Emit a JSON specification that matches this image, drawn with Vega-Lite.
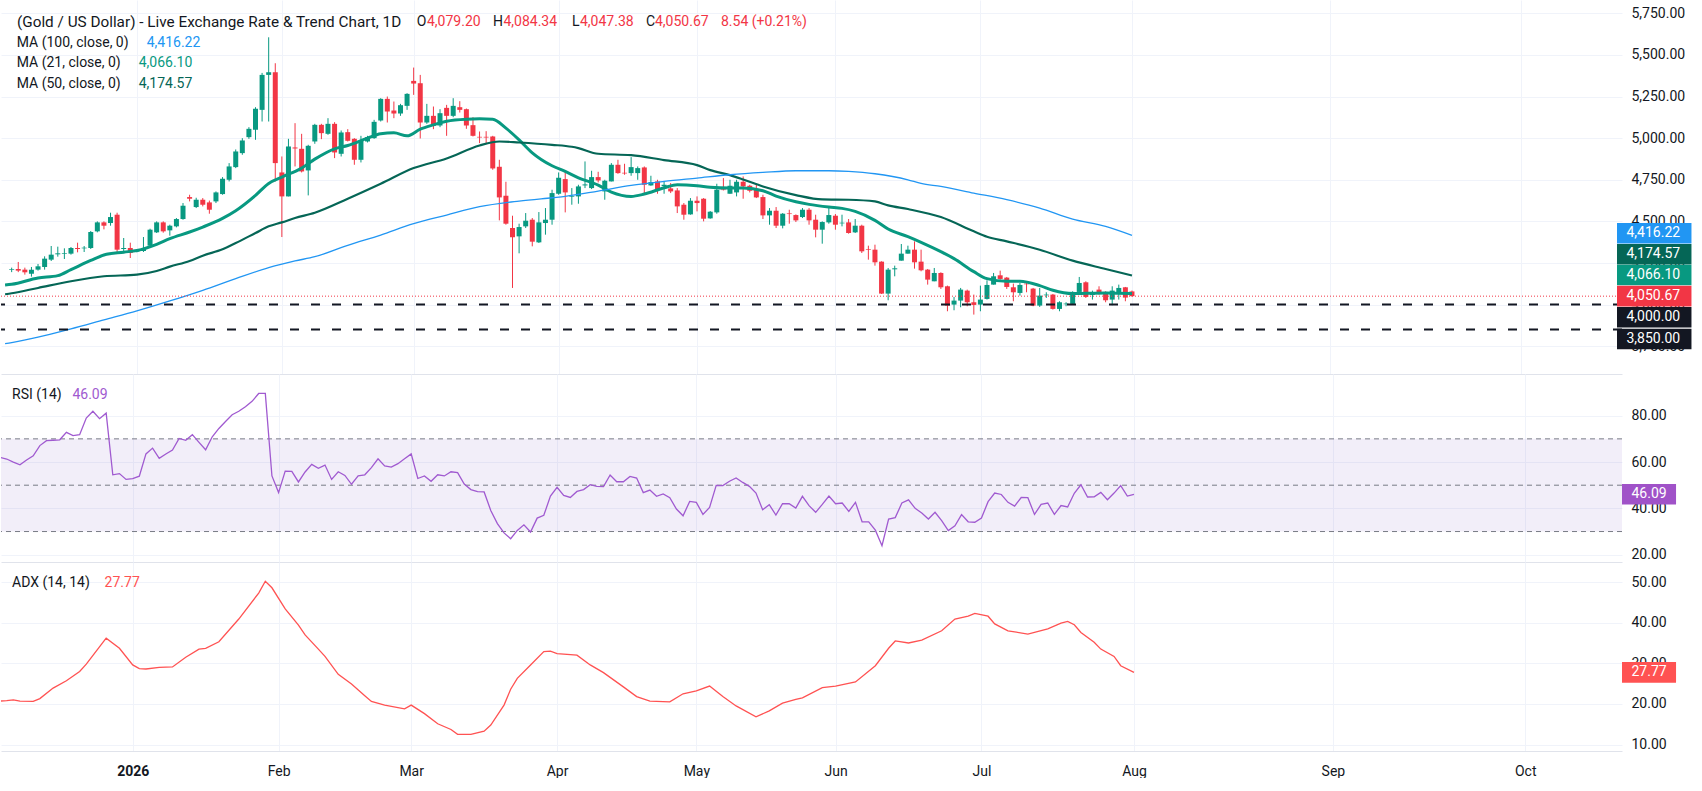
{
  "$schema": "https://vega.github.io/schema/vega-lite/v6.json",
  "description": "Gold / US Dollar daily candles with MA 21/50/100, RSI (14) and ADX (14, 14) panes.",
  "background": "#ffffff",
  "padding": 0,
  "spacing": 0,
  "config": {
    "font": "Roboto",
    "view": {"stroke": null},
    "axis": {"labelFont": "Roboto", "labelFontSize": 14, "labelColor": "#131722", "gridColor": "#f0f3fa", "ticks": false, "domain": false, "title": null, "labelOverlap": false, "labelFlush": false},
    "text": {"font": "Roboto", "fontSize": 14, "align": "left", "baseline": "middle", "color": "#131722"}
  },
  "datasets": {
    "ohlc": [
      {"i":0,"o":4208,"h":4222,"l":4195,"c":4212},{"i":1,"o":4214,"h":4256,"l":4195,"c":4204},{"i":2,"o":4210,"h":4222,"l":4180,"c":4194},
      {"i":3,"o":4186,"h":4226,"l":4168,"c":4210},{"i":4,"o":4210,"h":4244,"l":4204,"c":4230},{"i":5,"o":4226,"h":4290,"l":4210,"c":4276},
      {"i":6,"o":4270,"h":4352,"l":4262,"c":4300},{"i":7,"o":4302,"h":4348,"l":4288,"c":4308},{"i":8,"o":4304,"h":4338,"l":4274,"c":4308},
      {"i":9,"o":4306,"h":4346,"l":4300,"c":4340},{"i":10,"o":4340,"h":4372,"l":4314,"c":4334},{"i":11,"o":4338,"h":4352,"l":4316,"c":4342},
      {"i":12,"o":4340,"h":4442,"l":4334,"c":4436},{"i":13,"o":4440,"h":4500,"l":4434,"c":4494},{"i":14,"o":4494,"h":4500,"l":4452,"c":4474},
      {"i":15,"o":4490,"h":4552,"l":4474,"c":4526},{"i":16,"o":4540,"h":4552,"l":4310,"c":4330},{"i":17,"o":4334,"h":4400,"l":4320,"c":4340},
      {"i":18,"o":4340,"h":4372,"l":4280,"c":4310},{"i":19,"o":4318,"h":4332,"l":4314,"c":4326},{"i":20,"o":4322,"h":4406,"l":4316,"c":4340},
      {"i":21,"o":4354,"h":4456,"l":4346,"c":4450},{"i":22,"o":4434,"h":4500,"l":4430,"c":4494},{"i":23,"o":4494,"h":4500,"l":4432,"c":4440},
      {"i":24,"o":4446,"h":4480,"l":4414,"c":4474},{"i":25,"o":4470,"h":4520,"l":4464,"c":4514},{"i":26,"o":4514,"h":4610,"l":4510,"c":4594},
      {"i":27,"o":4646,"h":4660,"l":4620,"c":4636},{"i":28,"o":4586,"h":4642,"l":4580,"c":4630},{"i":29,"o":4630,"h":4640,"l":4590,"c":4600},
      {"i":30,"o":4614,"h":4625,"l":4546,"c":4570},{"i":31,"o":4620,"h":4680,"l":4610,"c":4674},{"i":32,"o":4664,"h":4766,"l":4660,"c":4756},
      {"i":33,"o":4750,"h":4850,"l":4740,"c":4830},{"i":34,"o":4826,"h":4932,"l":4820,"c":4920},{"i":35,"o":4910,"h":5000,"l":4900,"c":4986},
      {"i":36,"o":5006,"h":5066,"l":4996,"c":5056},{"i":37,"o":5050,"h":5186,"l":4990,"c":5176},{"i":38,"o":5170,"h":5392,"l":5100,"c":5380},
      {"i":39,"o":5380,"h":5606,"l":5100,"c":5396},{"i":40,"o":5396,"h":5450,"l":4740,"c":4850},{"i":41,"o":4794,"h":4890,"l":4406,"c":4650},
      {"i":42,"o":4650,"h":4996,"l":4650,"c":4950},{"i":43,"o":4944,"h":5090,"l":4830,"c":4938},{"i":44,"o":4936,"h":5026,"l":4794,"c":4800},
      {"i":45,"o":4806,"h":4960,"l":4656,"c":4954},{"i":46,"o":4980,"h":5086,"l":4966,"c":5080},{"i":47,"o":5080,"h":5086,"l":4994,"c":5030},
      {"i":48,"o":5026,"h":5120,"l":5020,"c":5086},{"i":49,"o":5086,"h":5096,"l":4880,"c":4914},{"i":50,"o":4906,"h":5046,"l":4890,"c":5034},
      {"i":51,"o":5036,"h":5054,"l":4980,"c":4984},{"i":52,"o":4996,"h":5000,"l":4840,"c":4870},{"i":53,"o":4870,"h":5014,"l":4854,"c":4986},
      {"i":54,"o":4980,"h":5014,"l":4974,"c":5006},{"i":55,"o":5000,"h":5110,"l":4996,"c":5098},{"i":56,"o":5106,"h":5240,"l":5100,"c":5236},
      {"i":57,"o":5236,"h":5250,"l":5094,"c":5160},{"i":58,"o":5166,"h":5220,"l":5120,"c":5148},{"i":59,"o":5148,"h":5206,"l":5134,"c":5198},
      {"i":60,"o":5194,"h":5270,"l":5170,"c":5266},{"i":61,"o":5344,"h":5424,"l":5260,"c":5328},{"i":62,"o":5330,"h":5380,"l":4998,"c":5094},
      {"i":63,"o":5094,"h":5206,"l":5086,"c":5134},{"i":64,"o":5134,"h":5190,"l":5054,"c":5074},{"i":65,"o":5076,"h":5174,"l":5066,"c":5150},
      {"i":66,"o":5182,"h":5200,"l":5014,"c":5134},{"i":67,"o":5134,"h":5240,"l":5126,"c":5194},{"i":68,"o":5186,"h":5222,"l":5154,"c":5170},
      {"i":69,"o":5174,"h":5178,"l":5056,"c":5076},{"i":70,"o":5078,"h":5126,"l":5010,"c":5014},{"i":71,"o":5008,"h":5040,"l":4970,"c":5004},
      {"i":72,"o":5008,"h":5042,"l":4970,"c":5004},{"i":73,"o":5010,"h":5014,"l":4810,"c":4818},{"i":74,"o":4828,"h":4870,"l":4506,"c":4644},
      {"i":75,"o":4654,"h":4738,"l":4480,"c":4486},{"i":76,"o":4460,"h":4534,"l":4100,"c":4404},{"i":77,"o":4410,"h":4486,"l":4308,"c":4466},
      {"i":78,"o":4470,"h":4550,"l":4460,"c":4504},{"i":79,"o":4510,"h":4520,"l":4350,"c":4378},{"i":80,"o":4374,"h":4556,"l":4370,"c":4494},
      {"i":81,"o":4490,"h":4580,"l":4420,"c":4510},{"i":82,"o":4510,"h":4690,"l":4480,"c":4670},{"i":83,"o":4666,"h":4794,"l":4660,"c":4762},
      {"i":84,"o":4754,"h":4800,"l":4554,"c":4674},{"i":85,"o":4648,"h":4700,"l":4600,"c":4652},{"i":86,"o":4650,"h":4720,"l":4606,"c":4710},
      {"i":87,"o":4716,"h":4860,"l":4700,"c":4722},{"i":88,"o":4700,"h":4804,"l":4694,"c":4766},{"i":89,"o":4766,"h":4798,"l":4734,"c":4746},
      {"i":90,"o":4680,"h":4750,"l":4630,"c":4744},{"i":91,"o":4740,"h":4850,"l":4740,"c":4840},{"i":92,"o":4840,"h":4870,"l":4786,"c":4790},
      {"i":93,"o":4792,"h":4846,"l":4780,"c":4788},{"i":94,"o":4790,"h":4886,"l":4774,"c":4826},{"i":95,"o":4790,"h":4830,"l":4750,"c":4820},
      {"i":96,"o":4824,"h":4830,"l":4666,"c":4720},{"i":97,"o":4716,"h":4774,"l":4714,"c":4736},{"i":98,"o":4740,"h":4750,"l":4666,"c":4690},
      {"i":99,"o":4712,"h":4740,"l":4666,"c":4720},{"i":100,"o":4698,"h":4730,"l":4670,"c":4680},{"i":101,"o":4686,"h":4700,"l":4550,"c":4590},
      {"i":102,"o":4600,"h":4610,"l":4510,"c":4540},{"i":103,"o":4542,"h":4640,"l":4540,"c":4624},{"i":104,"o":4624,"h":4650,"l":4560,"c":4610},
      {"i":105,"o":4636,"h":4640,"l":4500,"c":4516},{"i":106,"o":4518,"h":4562,"l":4516,"c":4558},{"i":107,"o":4554,"h":4726,"l":4546,"c":4690},
      {"i":108,"o":4692,"h":4760,"l":4686,"c":4688},{"i":109,"o":4666,"h":4750,"l":4666,"c":4714},{"i":110,"o":4674,"h":4750,"l":4650,"c":4738},
      {"i":111,"o":4738,"h":4770,"l":4636,"c":4710},{"i":112,"o":4714,"h":4720,"l":4674,"c":4684},{"i":113,"o":4690,"h":4720,"l":4640,"c":4644},
      {"i":114,"o":4646,"h":4660,"l":4514,"c":4536},{"i":115,"o":4536,"h":4580,"l":4480,"c":4564},{"i":116,"o":4564,"h":4586,"l":4460,"c":4474},
      {"i":117,"o":4474,"h":4550,"l":4458,"c":4546},{"i":118,"o":4548,"h":4570,"l":4486,"c":4544},{"i":119,"o":4538,"h":4542,"l":4496,"c":4506},
      {"i":120,"o":4526,"h":4580,"l":4520,"c":4570},{"i":121,"o":4570,"h":4580,"l":4480,"c":4506},{"i":122,"o":4510,"h":4540,"l":4404,"c":4450},
      {"i":123,"o":4450,"h":4500,"l":4366,"c":4496},{"i":124,"o":4494,"h":4590,"l":4486,"c":4538},{"i":125,"o":4534,"h":4544,"l":4450,"c":4480},
      {"i":126,"o":4488,"h":4540,"l":4470,"c":4492},{"i":127,"o":4494,"h":4514,"l":4426,"c":4430},{"i":128,"o":4434,"h":4514,"l":4430,"c":4474},
      {"i":129,"o":4474,"h":4480,"l":4310,"c":4320},{"i":130,"o":4332,"h":4354,"l":4270,"c":4328},{"i":131,"o":4330,"h":4360,"l":4234,"c":4254},
      {"i":132,"o":4258,"h":4260,"l":4064,"c":4066},{"i":133,"o":4066,"h":4220,"l":4026,"c":4210},{"i":134,"o":4212,"h":4234,"l":4170,"c":4218},
      {"i":135,"o":4264,"h":4364,"l":4264,"c":4306},{"i":136,"o":4306,"h":4354,"l":4306,"c":4330},{"i":137,"o":4330,"h":4380,"l":4216,"c":4254},
      {"i":138,"o":4258,"h":4330,"l":4200,"c":4206},{"i":139,"o":4210,"h":4214,"l":4120,"c":4150},{"i":140,"o":4140,"h":4220,"l":4140,"c":4190},
      {"i":141,"o":4190,"h":4194,"l":4094,"c":4104},{"i":142,"o":4110,"h":4114,"l":3960,"c":3994},{"i":143,"o":4000,"h":4046,"l":3966,"c":4024},
      {"i":144,"o":4024,"h":4100,"l":3984,"c":4090},{"i":145,"o":4084,"h":4090,"l":3990,"c":4014},{"i":146,"o":4014,"h":4060,"l":3940,"c":3998},
      {"i":147,"o":4000,"h":4114,"l":3960,"c":4030},{"i":148,"o":4034,"h":4146,"l":4030,"c":4118},{"i":149,"o":4120,"h":4190,"l":4120,"c":4170},
      {"i":150,"o":4176,"h":4204,"l":4150,"c":4154},{"i":151,"o":4162,"h":4166,"l":4094,"c":4106},{"i":152,"o":4104,"h":4126,"l":4020,"c":4074},
      {"i":153,"o":4070,"h":4130,"l":4054,"c":4118},{"i":154,"o":4126,"h":4130,"l":4074,"c":4122},{"i":155,"o":4096,"h":4100,"l":3990,"c":3994},
      {"i":156,"o":3994,"h":4100,"l":3986,"c":4054},{"i":157,"o":4056,"h":4074,"l":4040,"c":4060},{"i":158,"o":4060,"h":4064,"l":3970,"c":3974},
      {"i":159,"o":3974,"h":4020,"l":3960,"c":4014},{"i":160,"o":4002,"h":4014,"l":3990,"c":4006},{"i":161,"o":4004,"h":4080,"l":4000,"c":4076},
      {"i":162,"o":4076,"h":4166,"l":4070,"c":4130},{"i":163,"o":4134,"h":4140,"l":4040,"c":4046},{"i":164,"o":4058,"h":4084,"l":4030,"c":4064},
      {"i":165,"o":4090,"h":4110,"l":4060,"c":4070},{"i":166,"o":4076,"h":4080,"l":4014,"c":4026},{"i":167,"o":4030,"h":4110,"l":3996,"c":4084},
      {"i":168,"o":4064,"h":4120,"l":4030,"c":4100},{"i":169,"o":4104,"h":4106,"l":4020,"c":4042.13},{"i":170,"o":4079.2,"h":4084.34,"l":4047.38,"c":4050.67}
    ],
    "ma": [
      {"s":"ma21","i":-1,"v":4118},{"s":"ma21","i":0,"v":4122},{"s":"ma21","i":4,"v":4160},{"s":"ma21","i":7,"v":4174},{"s":"ma21","i":9,"v":4210},
      {"s":"ma21","i":12,"v":4265},{"s":"ma21","i":14,"v":4298},{"s":"ma21","i":17,"v":4315},{"s":"ma21","i":19,"v":4325},{"s":"ma21","i":22,"v":4362},
      {"s":"ma21","i":24,"v":4396},{"s":"ma21","i":27,"v":4436},{"s":"ma21","i":29,"v":4466},{"s":"ma21","i":32,"v":4518},{"s":"ma21","i":34,"v":4564},
      {"s":"ma21","i":37,"v":4656},{"s":"ma21","i":39,"v":4728},{"s":"ma21","i":41,"v":4766},{"s":"ma21","i":44,"v":4820},{"s":"ma21","i":46,"v":4874},
      {"s":"ma21","i":49,"v":4936},{"s":"ma21","i":51,"v":4956},{"s":"ma21","i":54,"v":5000},{"s":"ma21","i":56,"v":5026},{"s":"ma21","i":58,"v":5032},
      {"s":"ma21","i":60,"v":5014},{"s":"ma21","i":62,"v":5054},{"s":"ma21","i":64,"v":5080},{"s":"ma21","i":66,"v":5102},{"s":"ma21","i":69,"v":5114},
      {"s":"ma21","i":71,"v":5116},{"s":"ma21","i":73,"v":5114},{"s":"ma21","i":75,"v":5060},{"s":"ma21","i":77,"v":4990},{"s":"ma21","i":79,"v":4912},
      {"s":"ma21","i":82,"v":4834},{"s":"ma21","i":84,"v":4800},{"s":"ma21","i":86,"v":4762},{"s":"ma21","i":89,"v":4718},{"s":"ma21","i":91,"v":4676},
      {"s":"ma21","i":94,"v":4650},{"s":"ma21","i":96,"v":4664},{"s":"ma21","i":99,"v":4702},{"s":"ma21","i":101,"v":4720},{"s":"ma21","i":104,"v":4714},
      {"s":"ma21","i":106,"v":4705},{"s":"ma21","i":109,"v":4700},{"s":"ma21","i":111,"v":4700},{"s":"ma21","i":114,"v":4684},{"s":"ma21","i":116,"v":4652},
      {"s":"ma21","i":119,"v":4618},{"s":"ma21","i":121,"v":4602},{"s":"ma21","i":124,"v":4586},{"s":"ma21","i":126,"v":4578},{"s":"ma21","i":128,"v":4560},
      {"s":"ma21","i":131,"v":4506},{"s":"ma21","i":133,"v":4454},{"s":"ma21","i":136,"v":4408},{"s":"ma21","i":138,"v":4374},{"s":"ma21","i":141,"v":4318},
      {"s":"ma21","i":143,"v":4276},{"s":"ma21","i":146,"v":4198},{"s":"ma21","i":148,"v":4156},{"s":"ma21","i":151,"v":4140},{"s":"ma21","i":153,"v":4140},
      {"s":"ma21","i":156,"v":4114},{"s":"ma21","i":158,"v":4086},{"s":"ma21","i":161,"v":4066},{"s":"ma21","i":163,"v":4068},{"s":"ma21","i":166,"v":4070},
      {"s":"ma21","i":170,"v":4066.1},
      {"s":"ma50","i":-1,"v":4062},{"s":"ma50","i":0,"v":4068},{"s":"ma50","i":4,"v":4100},{"s":"ma50","i":9,"v":4140},{"s":"ma50","i":14,"v":4170},
      {"s":"ma50","i":19,"v":4180},{"s":"ma50","i":22,"v":4202},{"s":"ma50","i":24,"v":4228},{"s":"ma50","i":27,"v":4262},{"s":"ma50","i":29,"v":4294},
      {"s":"ma50","i":32,"v":4332},{"s":"ma50","i":34,"v":4370},{"s":"ma50","i":37,"v":4430},{"s":"ma50","i":39,"v":4470},{"s":"ma50","i":41,"v":4494},
      {"s":"ma50","i":43,"v":4520},{"s":"ma50","i":46,"v":4552},{"s":"ma50","i":51,"v":4636},{"s":"ma50","i":56,"v":4726},{"s":"ma50","i":61,"v":4820},
      {"s":"ma50","i":66,"v":4878},{"s":"ma50","i":71,"v":4956},{"s":"ma50","i":74,"v":4980},{"s":"ma50","i":77,"v":4974},{"s":"ma50","i":82,"v":4960},
      {"s":"ma50","i":85,"v":4948},{"s":"ma50","i":86,"v":4940},{"s":"ma50","i":89,"v":4906},{"s":"ma50","i":94,"v":4898},{"s":"ma50","i":99,"v":4868},
      {"s":"ma50","i":104,"v":4838},{"s":"ma50","i":106,"v":4808},{"s":"ma50","i":109,"v":4778},{"s":"ma50","i":111,"v":4752},{"s":"ma50","i":114,"v":4710},
      {"s":"ma50","i":119,"v":4658},{"s":"ma50","i":123,"v":4632},{"s":"ma50","i":127,"v":4630},{"s":"ma50","i":131,"v":4620},{"s":"ma50","i":133,"v":4596},
      {"s":"ma50","i":136,"v":4574},{"s":"ma50","i":141,"v":4526},{"s":"ma50","i":146,"v":4440},{"s":"ma50","i":148,"v":4408},{"s":"ma50","i":151,"v":4380},
      {"s":"ma50","i":156,"v":4330},{"s":"ma50","i":161,"v":4264},{"s":"ma50","i":166,"v":4214},{"s":"ma50","i":170,"v":4174.57},
      {"s":"ma100","i":-1,"v":3766},{"s":"ma100","i":0,"v":3772},{"s":"ma100","i":4,"v":3804},{"s":"ma100","i":9,"v":3854},{"s":"ma100","i":14,"v":3908},
      {"s":"ma100","i":19,"v":3962},{"s":"ma100","i":24,"v":4022},{"s":"ma100","i":29,"v":4086},{"s":"ma100","i":34,"v":4156},{"s":"ma100","i":39,"v":4222},
      {"s":"ma100","i":43,"v":4262},{"s":"ma100","i":46,"v":4288},{"s":"ma100","i":51,"v":4356},{"s":"ma100","i":56,"v":4418},{"s":"ma100","i":61,"v":4486},
      {"s":"ma100","i":66,"v":4538},{"s":"ma100","i":71,"v":4588},{"s":"ma100","i":77,"v":4622},{"s":"ma100","i":82,"v":4642},{"s":"ma100","i":84,"v":4650},
      {"s":"ma100","i":89,"v":4682},{"s":"ma100","i":94,"v":4716},{"s":"ma100","i":99,"v":4740},{"s":"ma100","i":104,"v":4760},{"s":"ma100","i":109,"v":4780},
      {"s":"ma100","i":114,"v":4794},{"s":"ma100","i":119,"v":4804},{"s":"ma100","i":124,"v":4804},{"s":"ma100","i":127,"v":4800},{"s":"ma100","i":131,"v":4786},
      {"s":"ma100","i":136,"v":4750},{"s":"ma100","i":138,"v":4728},{"s":"ma100","i":141,"v":4710},{"s":"ma100","i":146,"v":4670},{"s":"ma100","i":151,"v":4630},
      {"s":"ma100","i":156,"v":4580},{"s":"ma100","i":161,"v":4514},{"s":"ma100","i":166,"v":4470},{"s":"ma100","i":170,"v":4416.22}
    ],
    "rsi": [
      {"i":-1,"v":62},{"i":0,"v":61.3},{"i":1,"v":60},{"i":2,"v":58.8},{"i":3,"v":60.9},{"i":4,"v":62.7},{"i":5,"v":67.1},{"i":6,"v":69.2},{"i":7,"v":69.4},
      {"i":8,"v":69.6},{"i":9,"v":72.8},{"i":10,"v":71.4},{"i":11,"v":71.8},{"i":12,"v":79},{"i":13,"v":81.9},{"i":14,"v":78.7},{"i":15,"v":81.1},
      {"i":16,"v":54.5},{"i":17,"v":55},{"i":18,"v":52.5},{"i":19,"v":52.8},{"i":20,"v":53.9},{"i":21,"v":63.5},{"i":22,"v":66},{"i":23,"v":61.6},
      {"i":24,"v":63.5},{"i":25,"v":65.2},{"i":26,"v":70.2},{"i":27,"v":69.4},{"i":28,"v":71.8},{"i":29,"v":68.5},{"i":30,"v":65.3},{"i":31,"v":70.9},
      {"i":32,"v":74.5},{"i":33,"v":77.5},{"i":34,"v":80.4},{"i":35,"v":81.9},{"i":36,"v":83.9},{"i":37,"v":86.2},{"i":38,"v":89.6},{"i":39,"v":89.6},
      {"i":40,"v":54},{"i":41,"v":46.8},{"i":42,"v":56.1},{"i":43,"v":56},{"i":44,"v":51.4},{"i":45,"v":55.7},{"i":46,"v":59},{"i":47,"v":57.3},
      {"i":48,"v":58.7},{"i":49,"v":52.5},{"i":50,"v":55.8},{"i":51,"v":54.2},{"i":52,"v":50.4},{"i":53,"v":54},{"i":54,"v":54.5},{"i":55,"v":57.6},
      {"i":56,"v":61.4},{"i":57,"v":58.3},{"i":58,"v":57.8},{"i":59,"v":59.3},{"i":60,"v":61.4},{"i":61,"v":63.5},{"i":62,"v":52.9},{"i":63,"v":54},
      {"i":64,"v":51.7},{"i":65,"v":54.5},{"i":66,"v":54},{"i":67,"v":55.8},{"i":68,"v":55.4},{"i":69,"v":50.5},{"i":70,"v":48.1},{"i":71,"v":47.2},
      {"i":72,"v":47.1},{"i":73,"v":39.1},{"i":74,"v":33.4},{"i":75,"v":29.4},{"i":76,"v":26.9},{"i":77,"v":30.5},{"i":78,"v":32.9},{"i":79,"v":29.8},
      {"i":80,"v":35.8},{"i":81,"v":37},{"i":82,"v":45.3},{"i":83,"v":49.1},{"i":84,"v":45.6},{"i":85,"v":44.7},{"i":86,"v":47.3},{"i":87,"v":48.1},
      {"i":88,"v":50.2},{"i":89,"v":49.5},{"i":90,"v":49.4},{"i":91,"v":54.4},{"i":92,"v":51.5},{"i":93,"v":51.5},{"i":94,"v":53.8},{"i":95,"v":53.1},
      {"i":96,"v":46.8},{"i":97,"v":47.9},{"i":98,"v":45.2},{"i":99,"v":46.2},{"i":100,"v":44.6},{"i":101,"v":39.7},{"i":102,"v":36.8},{"i":103,"v":43},
      {"i":104,"v":42.6},{"i":105,"v":37.4},{"i":106,"v":40.4},{"i":107,"v":49.9},{"i":108,"v":49.8},{"i":109,"v":51.7},{"i":110,"v":53.1},{"i":111,"v":51.2},
      {"i":112,"v":49.5},{"i":113,"v":46.6},{"i":114,"v":39.4},{"i":115,"v":41.6},{"i":116,"v":37.1},{"i":117,"v":42},{"i":118,"v":42},{"i":119,"v":40.1},
      {"i":120,"v":45.2},{"i":121,"v":41.2},{"i":122,"v":38.3},{"i":123,"v":41.7},{"i":124,"v":45.3},{"i":125,"v":42},{"i":126,"v":42.3},{"i":127,"v":38.7},
      {"i":128,"v":42.6},{"i":129,"v":34.2},{"i":130,"v":34.2},{"i":131,"v":30.6},{"i":132,"v":23.9},{"i":133,"v":35.4},{"i":134,"v":36},{"i":135,"v":42.3},
      {"i":136,"v":43.7},{"i":137,"v":40},{"i":138,"v":38},{"i":139,"v":35.4},{"i":140,"v":38.3},{"i":141,"v":34.7},{"i":142,"v":30.4},{"i":143,"v":32.5},
      {"i":144,"v":37.3},{"i":145,"v":34.2},{"i":146,"v":34},{"i":147,"v":35.8},{"i":148,"v":42.9},{"i":149,"v":46.6},{"i":150,"v":46},{"i":151,"v":42.6},
      {"i":152,"v":41},{"i":153,"v":44.7},{"i":154,"v":44.6},{"i":155,"v":37.4},{"i":156,"v":41.7},{"i":157,"v":42.3},{"i":158,"v":37.4},{"i":159,"v":41.2},
      {"i":160,"v":40.6},{"i":161,"v":46.5},{"i":162,"v":50.2},{"i":163,"v":44.9},{"i":164,"v":45},{"i":165,"v":46.9},{"i":166,"v":43.7},{"i":167,"v":46.6},
      {"i":168,"v":49.8},{"i":169,"v":45.3},{"i":170,"v":46.09}
    ],
    "adx": [
      {"i":-1,"v":20.7},{"i":0,"v":20.8},{"i":1,"v":21},{"i":2,"v":20.7},{"i":4,"v":20.6},{"i":5,"v":21.3},{"i":7,"v":23.9},{"i":9,"v":25.7},
      {"i":11,"v":28},{"i":12,"v":29.8},{"i":15,"v":36.2},{"i":17,"v":33.7},{"i":19,"v":29.6},{"i":20,"v":28.7},{"i":21,"v":28.6},{"i":23,"v":29},
      {"i":25,"v":29.1},{"i":27,"v":31.5},{"i":29,"v":33.5},{"i":30,"v":33.7},{"i":32,"v":35.3},{"i":35,"v":40.9},{"i":38,"v":47.3},{"i":39,"v":50.2},
      {"i":40,"v":48.6},{"i":42,"v":43.4},{"i":44,"v":39.4},{"i":45,"v":37},{"i":47,"v":33.5},{"i":48,"v":31.7},{"i":50,"v":27.3},{"i":52,"v":24.9},
      {"i":54,"v":22},{"i":55,"v":20.6},{"i":57,"v":19.7},{"i":60,"v":18.8},{"i":61,"v":19.7},{"i":63,"v":17.6},{"i":65,"v":15.1},{"i":67,"v":13.7},
      {"i":68,"v":12.5},{"i":70,"v":12.5},{"i":72,"v":13.3},{"i":73,"v":14.8},{"i":75,"v":19.7},{"i":76,"v":23.6},{"i":77,"v":26.3},{"i":79,"v":29.6},
      {"i":81,"v":32.9},{"i":82,"v":33},{"i":83,"v":32.4},{"i":86,"v":32},{"i":88,"v":29.6},{"i":90,"v":27.7},{"i":93,"v":24.2},{"i":95,"v":21.8},
      {"i":97,"v":20.7},{"i":100,"v":20.5},{"i":102,"v":22.5},{"i":104,"v":23.2},{"i":106,"v":24.4},{"i":108,"v":21.8},{"i":110,"v":19.5},{"i":113,"v":16.8},
      {"i":115,"v":18.3},{"i":117,"v":20.2},{"i":119,"v":21.1},{"i":120,"v":21.5},{"i":123,"v":24},{"i":125,"v":24.4},{"i":128,"v":25.4},{"i":131,"v":29.4},
      {"i":133,"v":33.7},{"i":134,"v":35.5},{"i":136,"v":35},{"i":138,"v":35.7},{"i":141,"v":38},{"i":143,"v":40.9},{"i":145,"v":41.6},{"i":146,"v":42.3},
      {"i":148,"v":41.6},{"i":149,"v":39.7},{"i":151,"v":38},{"i":154,"v":37.2},{"i":157,"v":38.5},{"i":159,"v":39.9},{"i":160,"v":40.3},{"i":161,"v":39.5},
      {"i":162,"v":37.6},{"i":164,"v":35.2},{"i":165,"v":33.5},{"i":167,"v":31.7},{"i":168,"v":29.4},{"i":170,"v":27.77}
    ],
    "levels": [{"v": 4000}, {"v": 3850}],
    "tags": [
      {"k": "ma100", "v": 4416.22}, {"k": "ma50", "v": 4174.57}, {"k": "ma21", "v": 4066.1},
      {"k": "close", "v": 4050.67}, {"k": "s4000", "v": 4000}, {"k": "s3850", "v": 3850}
    ],
    "rsiLevels": [{"v": 70}, {"v": 50}, {"v": 30}]
  },
  "vconcat": [
    {
      "width": 1621,
      "height": 374,
      "layer": [
        {
          "data": {"name": "ohlc"},
          "mark": {"type": "rule", "strokeWidth": 1},
          "encoding": {
            "x": {"field": "i", "type": "quantitative", "scale": {"domain": [-0.86, 243.6], "nice": false, "zero": false},
                  "axis": {"values": [19, 41, 61, 83, 104, 125, 147, 170, 200, 229], "labels": false, "grid": true, "domain": true, "domainColor": "#e0e3eb"}},
            "y": {"field": "l", "type": "quantitative", "scale": {"domain": [3583, 5830], "nice": false, "zero": false},
                  "axis": {"orient": "right", "values": [3750, 4000, 4250, 4500, 4750, 5000, 5250, 5500, 5750], "format": ",.2f", "labelAlign": "left", "labelPadding": 9, "grid": true}},
            "y2": {"field": "h"},
            "color": {"condition": {"test": "datum.c >= datum.o", "value": "#089981"}, "value": "#f23645"}
          }
        },
        {
          "data": {"name": "ohlc"},
          "mark": {"type": "bar", "width": 5},
          "encoding": {
            "x": {"field": "i", "type": "quantitative"},
            "y": {"field": "o", "type": "quantitative"},
            "y2": {"field": "c"},
            "color": {"condition": {"test": "datum.c >= datum.o", "value": "#089981"}, "value": "#f23645"}
          }
        },
        {
          "data": {"name": "ma"},
          "mark": {"type": "line", "clip": true, "interpolate": "monotone"},
          "encoding": {
            "x": {"field": "i", "type": "quantitative"},
            "y": {"field": "v", "type": "quantitative"},
            "stroke": {"field": "s", "type": "nominal", "scale": {"domain": ["ma21", "ma50", "ma100"], "range": ["#089981", "#056656", "#2196f3"]}, "legend": null},
            "strokeWidth": {"field": "s", "type": "nominal", "scale": {"domain": ["ma21", "ma50", "ma100"], "range": [3, 1.3, 1.3]}, "legend": null}
          }
        },
        {
          "data": {"name": "ohlc"},
          "transform": [{"filter": "datum.i == 170"}],
          "mark": {"type": "rule", "color": "#f23645", "strokeDash": [1, 2], "strokeWidth": 1},
          "encoding": {"y": {"field": "c", "type": "quantitative"}}
        },
        {
          "data": {"name": "levels"},
          "mark": {"type": "rule", "color": "#131722", "strokeDash": [9, 12], "strokeWidth": 2},
          "encoding": {"y": {"field": "v", "type": "quantitative"}}
        },
        {
          "data": {"name": "tags"},
          "mark": {
            "type": "rect",
            "yOffset": {"expr": "(datum.k == 'ma100' ? -2 : datum.k == 'ma50' ? -21.3 : datum.k == 'ma21' ? -18.6 : datum.k == 's4000' ? 12.7 : datum.k == 's3850' ? 9.4 : 0) - 10.3"},
            "y2Offset": {"expr": "(datum.k == 'ma100' ? -2 : datum.k == 'ma50' ? -21.3 : datum.k == 'ma21' ? -18.6 : datum.k == 's4000' ? 12.7 : datum.k == 's3850' ? 9.4 : 0) + 10.3"}
          },
          "encoding": {
            "x": {"datum": 243.6, "type": "quantitative"},
            "x2": {"datum": 254.9},
            "y": {"field": "v", "type": "quantitative"},
            "y2": {"field": "v"},
            "fill": {"field": "k", "type": "nominal", "scale": {"domain": ["ma100", "ma50", "ma21", "close", "s4000", "s3850"], "range": ["#2196f3", "#056656", "#089981", "#f23645", "#131722", "#131722"]}, "legend": null}
          }
        },
        {
          "data": {"name": "tags"},
          "mark": {
            "type": "text", "color": "#ffffff", "dx": 9.5,
            "yOffset": {"expr": "datum.k == 'ma100' ? -2 : datum.k == 'ma50' ? -21.3 : datum.k == 'ma21' ? -18.6 : datum.k == 's4000' ? 12.7 : datum.k == 's3850' ? 9.4 : 0"}
          },
          "encoding": {
            "x": {"datum": 243.6, "type": "quantitative"},
            "y": {"field": "v", "type": "quantitative"},
            "text": {"field": "v", "type": "quantitative", "format": ",.2f"}
          }
        },
        {"data": {"values": [{}]}, "mark": {"type": "text", "text": "(Gold / US Dollar) - Live Exchange Rate & Trend Chart, 1D", "dx": 11, "dy": 22, "fontSize": 15.3},
         "encoding": {"x": {"datum": -0.86, "type": "quantitative"}, "y": {"datum": 5830, "type": "quantitative"}}},
        {"data": {"values": [{}]}, "mark": {"type": "text", "text": "O", "dx": 410.7, "dy": 22},
         "encoding": {"x": {"datum": -0.86, "type": "quantitative"}, "y": {"datum": 5830, "type": "quantitative"}}},
        {"data": {"values": [{}]}, "mark": {"type": "text", "text": "4,079.20", "dx": 421, "dy": 22, "color": "#f23645"},
         "encoding": {"x": {"datum": -0.86, "type": "quantitative"}, "y": {"datum": 5830, "type": "quantitative"}}},
        {"data": {"values": [{}]}, "mark": {"type": "text", "text": "H", "dx": 487, "dy": 22},
         "encoding": {"x": {"datum": -0.86, "type": "quantitative"}, "y": {"datum": 5830, "type": "quantitative"}}},
        {"data": {"values": [{}]}, "mark": {"type": "text", "text": "4,084.34", "dx": 497.4, "dy": 22, "color": "#f23645"},
         "encoding": {"x": {"datum": -0.86, "type": "quantitative"}, "y": {"datum": 5830, "type": "quantitative"}}},
        {"data": {"values": [{}]}, "mark": {"type": "text", "text": "L", "dx": 566, "dy": 22},
         "encoding": {"x": {"datum": -0.86, "type": "quantitative"}, "y": {"datum": 5830, "type": "quantitative"}}},
        {"data": {"values": [{}]}, "mark": {"type": "text", "text": "4,047.38", "dx": 574, "dy": 22, "color": "#f23645"},
         "encoding": {"x": {"datum": -0.86, "type": "quantitative"}, "y": {"datum": 5830, "type": "quantitative"}}},
        {"data": {"values": [{}]}, "mark": {"type": "text", "text": "C", "dx": 640, "dy": 22},
         "encoding": {"x": {"datum": -0.86, "type": "quantitative"}, "y": {"datum": 5830, "type": "quantitative"}}},
        {"data": {"values": [{}]}, "mark": {"type": "text", "text": "4,050.67", "dx": 649, "dy": 22, "color": "#f23645"},
         "encoding": {"x": {"datum": -0.86, "type": "quantitative"}, "y": {"datum": 5830, "type": "quantitative"}}},
        {"data": {"values": [{}]}, "mark": {"type": "text", "text": "8.54 (+0.21%)", "dx": 715, "dy": 22, "color": "#f23645"},
         "encoding": {"x": {"datum": -0.86, "type": "quantitative"}, "y": {"datum": 5830, "type": "quantitative"}}},
        {"data": {"values": [{}]}, "mark": {"type": "text", "text": "MA (100, close, 0)", "dx": 10.7, "dy": 43},
         "encoding": {"x": {"datum": -0.86, "type": "quantitative"}, "y": {"datum": 5830, "type": "quantitative"}}},
        {"data": {"values": [{}]}, "mark": {"type": "text", "text": "4,416.22", "dx": 140.7, "dy": 43, "color": "#2196f3"},
         "encoding": {"x": {"datum": -0.86, "type": "quantitative"}, "y": {"datum": 5830, "type": "quantitative"}}},
        {"data": {"values": [{}]}, "mark": {"type": "text", "text": "MA (21, close, 0)", "dx": 10.7, "dy": 63},
         "encoding": {"x": {"datum": -0.86, "type": "quantitative"}, "y": {"datum": 5830, "type": "quantitative"}}},
        {"data": {"values": [{}]}, "mark": {"type": "text", "text": "4,066.10", "dx": 132.7, "dy": 63, "color": "#089981"},
         "encoding": {"x": {"datum": -0.86, "type": "quantitative"}, "y": {"datum": 5830, "type": "quantitative"}}},
        {"data": {"values": [{}]}, "mark": {"type": "text", "text": "MA (50, close, 0)", "dx": 10.7, "dy": 83.5},
         "encoding": {"x": {"datum": -0.86, "type": "quantitative"}, "y": {"datum": 5830, "type": "quantitative"}}},
        {"data": {"values": [{}]}, "mark": {"type": "text", "text": "4,174.57", "dx": 132.7, "dy": 83.5, "color": "#056656"},
         "encoding": {"x": {"datum": -0.86, "type": "quantitative"}, "y": {"datum": 5830, "type": "quantitative"}}}
      ]
    },
    {
      "width": 1621,
      "height": 188,
      "layer": [
        {
          "data": {"values": [{"lo": 30, "hi": 70}]},
          "mark": {"type": "rect", "color": "#7e57c2", "opacity": 0.1},
          "encoding": {
            "y": {"field": "lo", "type": "quantitative", "scale": {"domain": [16.85, 98], "nice": false, "zero": false}},
            "y2": {"field": "hi"}
          }
        },
        {
          "data": {"name": "rsiLevels"},
          "mark": {"type": "rule", "color": "#787b86", "strokeDash": [5, 4], "strokeWidth": 1},
          "encoding": {"y": {"field": "v", "type": "quantitative"}}
        },
        {
          "data": {"name": "rsi"},
          "mark": {"type": "line", "color": "#a05ad0", "strokeWidth": 1.3, "clip": true},
          "encoding": {
            "x": {"field": "i", "type": "quantitative", "scale": {"domain": [-0.86, 243.6], "nice": false, "zero": false},
                  "axis": {"values": [19, 41, 61, 83, 104, 125, 147, 170, 200, 229], "labels": false, "grid": true, "domain": true, "domainColor": "#e0e3eb"}},
            "y": {"field": "v", "type": "quantitative",
                  "axis": {"orient": "right", "values": [20, 40, 60, 80], "format": ".2f", "labelAlign": "left", "labelPadding": 9, "grid": true}}
          }
        },
        {
          "data": {"name": "rsi"},
          "transform": [{"filter": "datum.i == 170"}],
          "mark": {"type": "rect", "color": "#a052c8", "yOffset": -10.3, "y2Offset": 10.3},
          "encoding": {
            "x": {"datum": 243.6, "type": "quantitative"},
            "x2": {"datum": 251.75},
            "y": {"field": "v", "type": "quantitative"},
            "y2": {"field": "v"}
          }
        },
        {
          "data": {"name": "rsi"},
          "transform": [{"filter": "datum.i == 170"}],
          "mark": {"type": "text", "color": "#ffffff", "dx": 9.5},
          "encoding": {
            "x": {"datum": 243.6, "type": "quantitative"},
            "y": {"field": "v", "type": "quantitative"},
            "text": {"field": "v", "type": "quantitative", "format": ".2f"}
          }
        },
        {"data": {"values": [{}]}, "mark": {"type": "text", "text": "RSI (14)", "dx": 11, "dy": 21},
         "encoding": {"x": {"datum": -0.86, "type": "quantitative"}, "y": {"datum": 98, "type": "quantitative"}}},
        {"data": {"values": [{}]}, "mark": {"type": "text", "text": "46.09", "dx": 71.4, "dy": 21, "color": "#a05ad0"},
         "encoding": {"x": {"datum": -0.86, "type": "quantitative"}, "y": {"datum": 98, "type": "quantitative"}}}
      ]
    },
    {
      "width": 1621,
      "height": 189,
      "layer": [
        {
          "data": {"name": "adx"},
          "mark": {"type": "line", "color": "#ff5252", "strokeWidth": 1.3, "clip": true},
          "encoding": {
            "x": {"field": "i", "type": "quantitative", "scale": {"domain": [-0.86, 243.6], "nice": false, "zero": false},
                  "axis": {"values": [19, 41, 61, 83, 104, 125, 147, 170, 200, 229], "grid": true, "domain": true, "domainColor": "#e0e3eb", "labelPadding": 13, "labelFontSize": 14,
                           "labelExpr": "datum.value == 19 ? '2026' : datum.value == 41 ? 'Feb' : datum.value == 61 ? 'Mar' : datum.value == 83 ? 'Apr' : datum.value == 104 ? 'May' : datum.value == 125 ? 'Jun' : datum.value == 147 ? 'Jul' : datum.value == 170 ? 'Aug' : datum.value == 200 ? 'Sep' : 'Oct'",
                           "labelFontWeight": {"condition": {"test": "datum.value == 19", "value": "bold"}, "value": "normal"}}},
            "y": {"field": "v", "type": "quantitative", "scale": {"domain": [8.4, 54.95], "nice": false, "zero": false},
                  "axis": {"orient": "right", "values": [10, 20, 30, 40, 50], "format": ".2f", "labelAlign": "left", "labelPadding": 9, "grid": true}}
          }
        },
        {
          "data": {"name": "adx"},
          "transform": [{"filter": "datum.i == 170"}],
          "mark": {"type": "rect", "color": "#ff5252", "yOffset": -10.3, "y2Offset": 10.3},
          "encoding": {
            "x": {"datum": 243.6, "type": "quantitative"},
            "x2": {"datum": 251.75},
            "y": {"field": "v", "type": "quantitative"},
            "y2": {"field": "v"}
          }
        },
        {
          "data": {"name": "adx"},
          "transform": [{"filter": "datum.i == 170"}],
          "mark": {"type": "text", "color": "#ffffff", "dx": 9.5},
          "encoding": {
            "x": {"datum": 243.6, "type": "quantitative"},
            "y": {"field": "v", "type": "quantitative"},
            "text": {"field": "v", "type": "quantitative", "format": ".2f"}
          }
        },
        {"data": {"values": [{}]}, "mark": {"type": "text", "text": "ADX (14, 14)", "dx": 11, "dy": 21.3},
         "encoding": {"x": {"datum": -0.86, "type": "quantitative"}, "y": {"datum": 54.95, "type": "quantitative"}}},
        {"data": {"values": [{}]}, "mark": {"type": "text", "text": "27.77", "dx": 103.6, "dy": 21.3, "color": "#ff5252"},
         "encoding": {"x": {"datum": -0.86, "type": "quantitative"}, "y": {"datum": 54.95, "type": "quantitative"}}}
      ]
    }
  ]
}
